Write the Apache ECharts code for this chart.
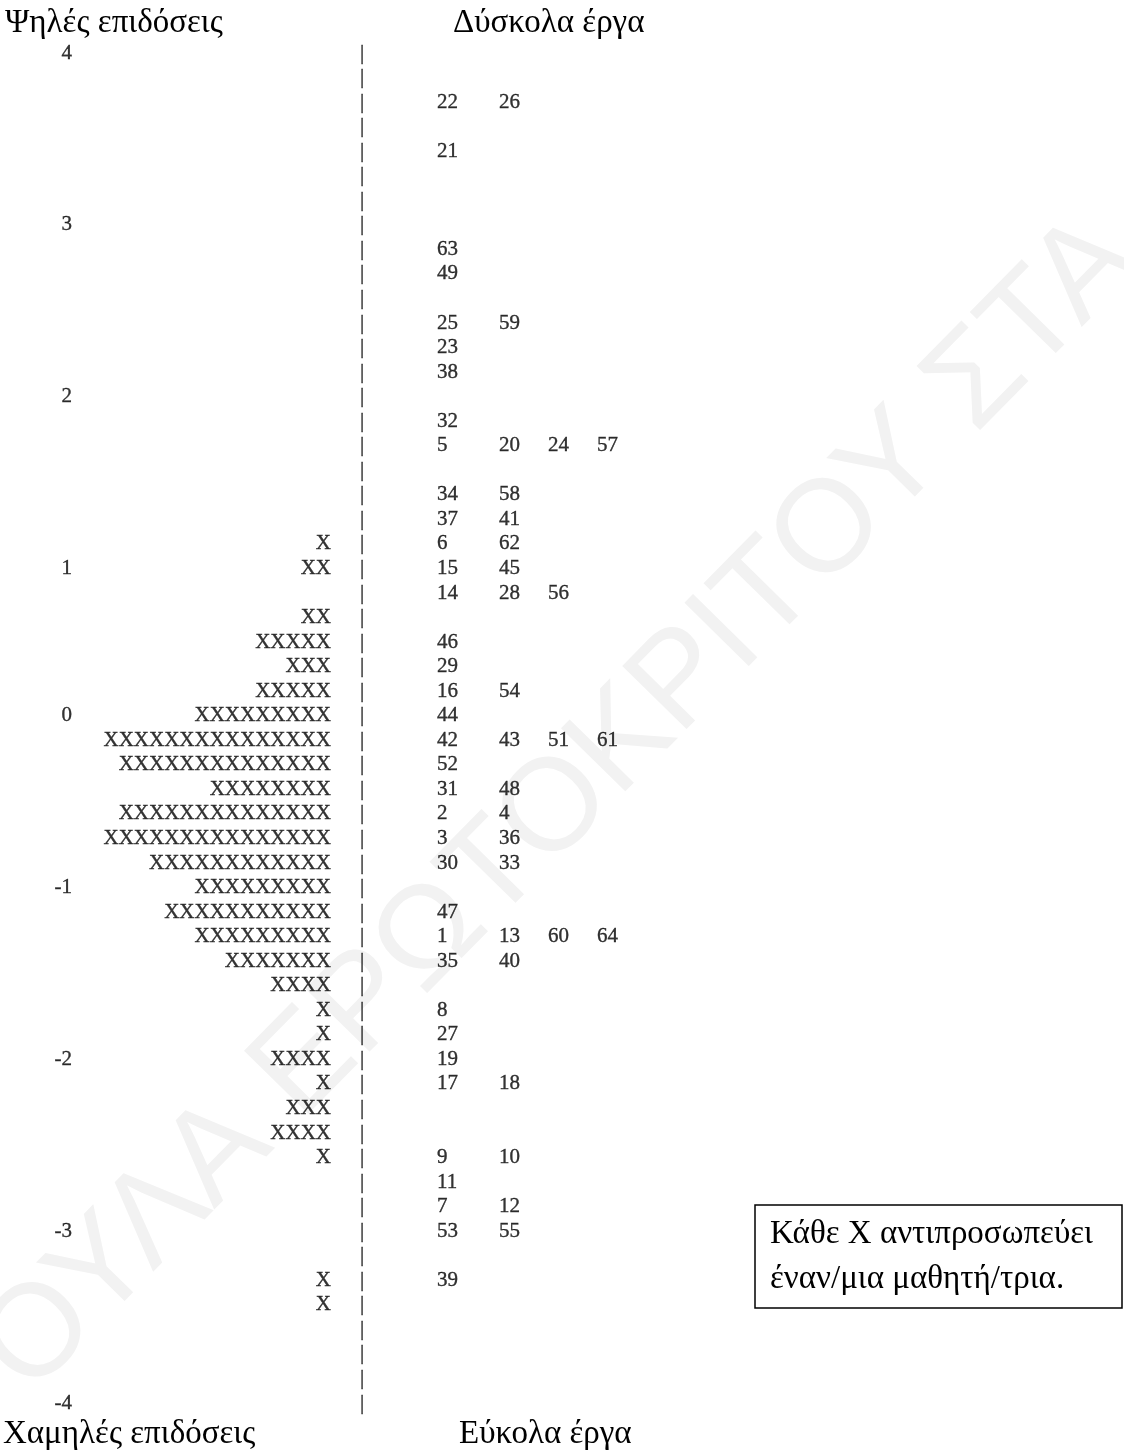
<!DOCTYPE html>
<html>
<head>
<meta charset="utf-8">
<script src="https://cdn.jsdelivr.net/npm/echarts@6/dist/echarts.min.js"></script>
<style>
  html, body { margin: 0; padding: 0; background: #fff; }
  #map { width: 1124px; height: 1454px; }
</style>
</head>
<body>
<div id="map"></div>
<script>
// Item–person map: each text row is one level on the logit scale (row 0 = top).
const ROW_COUNT = 56;

// Logit scale labels and the rows they sit on
const scaleRows   = [0, 7, 14, 21, 27, 34, 41, 48, 55];
const scaleLabels = ['4', '3', '2', '1', '0', '-1', '-2', '-3', '-4'];

// Students: number of X marks per row
const personRows   = [20, 21, 23, 24, 25, 26, 27, 28, 29, 30, 31, 32, 33, 34, 35, 36, 37, 38, 39, 40, 41, 42, 43, 44, 45, 50, 51];
const personCounts = [ 1,  2,  2,  5,  3,  5,  9, 15, 14,  8, 14, 15, 12,  9, 11,  9,  7,  4,  1,  1,  4,  1,  3,  4,  1,  1,  1];

// Items (task numbers) per row
const itemRows = [2, 4, 8, 9, 11, 12, 13, 15, 16, 18, 19, 20, 21, 22, 24, 25, 26, 27, 28, 29, 30, 31, 32, 33, 35, 36, 37, 39, 40, 41, 42, 45, 46, 47, 48, 50];
const itemIds = [
  [22, 26], [21], [63], [49], [25, 59], [23], [38], [32], [5, 20, 24, 57],
  [34, 58], [37, 41], [6, 62], [15, 45], [14, 28, 56], [46], [29], [16, 54],
  [44], [42, 43, 51, 61], [52], [31, 48], [2, 4], [3, 36], [30, 33], [47],
  [1, 13, 60, 64], [35, 40], [8], [27], [19], [17, 18], [9, 10], [11], [7, 12],
  [53, 55], [39]
];

// Text labels around the map
const topLeftTitle     = 'Ψηλές επιδόσεις';
const topRightTitle    = 'Δύσκολα έργα';
const bottomLeftTitle  = 'Χαμηλές επιδόσεις';
const bottomRightTitle = 'Εύκολα έργα';
const noteLines = ['Κάθε X αντιπροσωπεύει', 'έναν/μια μαθητή/τρια.'];
const watermarkText = 'ΟΥΛΑ ΕΡΩΤΟΚΡΙΤΟΥ ΣΤΑ';

// Layout (pixel columns along the horizontal axis)
const SCALE_X = 72;
const PERSON_X = 331;
const BAR_X = 362;
const ITEM_COLS = [437, 499, 548, 597];
const SERIF = '"Liberation Serif", "Times New Roman", serif';
const FS = 21;

const chart = echarts.init(document.getElementById('map'), null, { renderer: 'canvas' });

const baseLabel = (align) => ({
  show: true,
  position: 'inside',
  align: align,
  verticalAlign: 'middle',
  formatter: '{b}',
  fontFamily: SERIF,
  fontSize: FS,
  color: '#000',
  textBorderColor: '#000',
  textBorderWidth: 0.35
});

const textSeries = (name, data, align) => ({
  name: name,
  type: 'scatter',
  z: 10,
  silent: true,
  symbolSize: 1,
  itemStyle: { color: 'rgba(0,0,0,0)' },
  label: baseLabel(align),
  labelLayout: { hideOverlap: false },
  data: data
});

const scaleData = scaleRows.map((r, i) => ({ value: [SCALE_X, r], name: scaleLabels[i] }));
const personData = personRows.map((r, i) => ({ value: [PERSON_X, r], name: 'X'.repeat(personCounts[i]) }));
const barData = Array.from({ length: ROW_COUNT }, (_, r) => ({ value: [BAR_X, r], name: '|' }));
const itemData = [];
itemRows.forEach((r, i) => {
  itemIds[i].forEach((id, j) => {
    itemData.push({ value: [ITEM_COLS[j], r], name: String(id) });
  });
});

const plainText = (txt, x, y, size) => ({
  type: 'text',
  x: x, y: y,
  silent: true,
  style: {
    text: txt,
    font: size + 'px ' + SERIF,
    fill: '#000',
    textAlign: 'left',
    textVerticalAlign: 'middle'
  }
});

chart.setOption({
  animation: false,
  backgroundColor: '#fff',
  grid: { left: 0, right: 0, top: 53, bottom: 51, containLabel: false },
  xAxis: { type: 'value', min: 0, max: 1124, show: false },
  yAxis: { type: 'value', min: 0, max: ROW_COUNT - 1, inverse: true, show: false },
  series: [
    textSeries('scale', scaleData, 'right'),
    textSeries('persons', personData, 'right'),
    textSeries('divider', barData, 'center'),
    textSeries('items', itemData, 'left')
  ],
  graphic: [
    {
      type: 'text',
      z: -5,
      x: 4, y: 1372,
      rotation: 45.5 * Math.PI / 180,
      silent: true,
      style: {
        text: watermarkText,
        font: '131px "Liberation Sans", Arial, sans-serif',
        fill: '#f2f2f2',
        textAlign: 'left',
        textVerticalAlign: 'middle'
      }
    },
    plainText(topLeftTitle, 5, 23, 33),
    plainText(topRightTitle, 453, 23, 33),
    plainText(bottomLeftTitle, 3, 1434, 33),
    plainText(bottomRightTitle, 459, 1434, 33),
    {
      type: 'rect',
      silent: true,
      shape: { x: 755, y: 1205, width: 367, height: 103 },
      style: { fill: '#fff', stroke: '#000', lineWidth: 1.5 }
    },
    plainText(noteLines[0], 770, 1234, 33),
    plainText(noteLines[1], 770, 1279, 33)
  ]
});
</script>
</body>
</html>
